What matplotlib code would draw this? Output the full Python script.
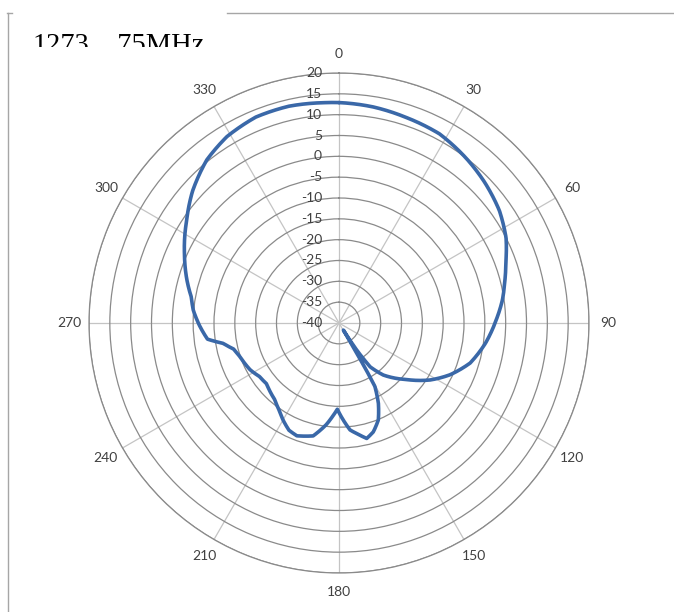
import numpy as np
import matplotlib
matplotlib.use("Agg")
import matplotlib.pyplot as plt
from matplotlib import transforms
from matplotlib.lines import Line2D

# ---- data ----
angles_deg = [0, 9, 18, 28, 38, 46, 55, 63, 70, 76, 82, 89, 97.8, 107, 115,
              122, 130, 139.6, 144.6, 146.8, 148.4, 149.3, 149.6, 149.9, 150.5,
              153.9, 157.9, 162.5, 166.5, 169.4, 174.1, 177.5, 181.1, 184, 187,
              192.9, 200.5, 205, 209.9, 214, 220, 230, 236, 242.2, 251.2, 256,
              260, 263, 269, 275, 280, 286, 294, 304, 312, 321, 329, 338, 347,
              356, 360]
gain_db = [12.9, 12.5, 11.9, 11.4, 9.9, 8.6, 7.0, 5.0, 2.6, 1.0, -0.4, -2.3,
           -4.5, -7.1, -10.6, -14.2, -18.9, -23.6, -27.1, -32.2, -38.0, -35.0,
           -31.6, -27.0, -22.5, -18.5, -14.9, -12.6, -11.5, -12.6, -14.2,
           -16.7, -19.3, -17.5, -15.5, -12.2, -11.1, -11.6, -13.1, -14.5,
           -16.0, -17.3, -17.0, -15.9, -14.9, -14.0, -11.8, -8.2, -6.5, -4.9,
           -4.0, -2.0, 0.6, 4.1, 7.3, 10.4, 12.2, 13.3, 13.4, 13.0, 12.9]
r_ticks = [-40, -35, -30, -25, -20, -15, -10, -5, 0, 5, 10, 15, 20]
theta_ticks = [0, 30, 60, 90, 120, 150, 180, 210, 240, 270, 300, 330]
title_text = "1273\uff0e75MHz"

W, H = 674, 612
fig = plt.figure(figsize=(W / 100, H / 100), dpi=100)

# frame lines (partial chart border)
fig.add_artist(Line2D([8 / W, 8 / W], [0, 1 - 13 / H], color="#a6a6a6", lw=1.0))
fig.add_artist(Line2D([7 / W, 12 / W], [1 - 13 / H, 1 - 13 / H], color="#a6a6a6", lw=1.0))
fig.add_artist(Line2D([227 / W, 1], [1 - 13 / H, 1 - 13 / H], color="#a6a6a6", lw=1.0))

cx, cy, R = 339, 323, 250
ax = fig.add_axes([(cx - R) / W, (H - cy - R) / H, 2 * R / W, 2 * R / H],
                  projection="polar")
ax.set_theta_zero_location("N")
ax.set_theta_direction(-1)
ax.set_ylim(-40, 20)
ax.set_yticks(r_ticks)
ax.set_yticklabels([])
ax.set_xticks(np.deg2rad(theta_ticks))
ax.set_xticklabels([])
ax.yaxis.grid(True, color="#8a8a8a", lw=0.9)
ax.xaxis.grid(True, color="#c4c4c4", lw=0.9)
ax.spines["polar"].set_color("#8a8a8a")
ax.spines["polar"].set_linewidth(0.9)
ax.set_facecolor("none")

ln, = ax.plot(np.deg2rad(angles_deg), gain_db, color="#3A68A8", lw=2.6,
              solid_joinstyle="round", solid_capstyle="round", zorder=5)
# draw each segment as a polar arc (spiral) rather than a straight chord
ln.get_path()._interpolation_steps = 40

lab_font = dict(family="Lato", fontsize=10, color="#404040")
# angular labels
for t in theta_ticks:
    ax.text(np.deg2rad(t), 24.6, str(t), ha="center", va="center",
            clip_on=False, **lab_font)
# radial labels
off = transforms.offset_copy(ax.transData, fig=fig, x=-17, y=0, units="dots")
for v in r_ticks:
    ax.text(0, v, str(v), ha="right", va="center", transform=off,
            clip_on=False, zorder=3, **lab_font)

# title, clipped at the bottom like the reference
t = fig.text(33 / W, 1 - 52.5 / H, title_text, ha="left", va="baseline",
             family=["Liberation Serif", "Noto Sans CJK JP"], fontsize=20.5,
             color="black")
clip = transforms.Bbox.from_extents(0, H - 46.5, W, H)
t.set_clip_box(transforms.TransformedBbox(clip, transforms.IdentityTransform()))
t.set_clip_on(True)

fig.savefig("out.png", dpi=100)
